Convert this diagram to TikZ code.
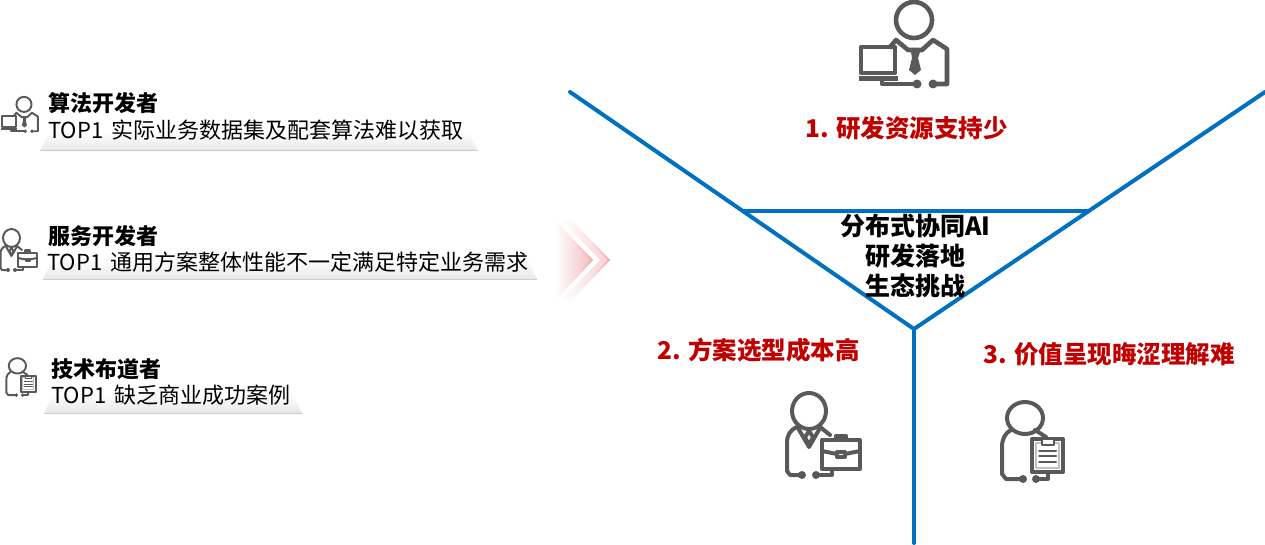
\documentclass[tikz,border=0pt]{standalone}
\usepackage{fontspec}
\setmainfont{Noto Sans CJK SC}
\usetikzlibrary{calc}
\definecolor{funnelblue}{HTML}{0070C0}
\definecolor{titlered}{HTML}{C00000}
\definecolor{icongray}{HTML}{595959}
\definecolor{arrowpink}{HTML}{F2BCC0}
\definecolor{arrowedge}{HTML}{F2ACB2}
\tikzset{
  funnel/.style={draw=funnelblue,line width=4pt,line cap=round},
  roletitle/.style={anchor=west,inner sep=0pt,font=\fontsize{22}{26}\selectfont\bfseries},
  roletext/.style={anchor=west,inner sep=0pt,font=\fontsize{22}{26}\selectfont},
  pain/.style={anchor=west,inner sep=0pt,text=titlered,font=\fontsize{24.5}{30}\selectfont\bfseries},
  core/.style={inner sep=0pt,font=\fontsize{25}{30}\selectfont\bfseries},
}
% shelf under a text line
\newcommand{\shelf}[3]{
  \shade[top color=white,bottom color=black!9] (#1+10,#3-20)--(#2-10,#3-20)--(#2,#3)--(#1,#3)--cycle;
  \draw[black!20,line width=1pt] (#1,#3)--(#2,#3);
}
% person with laptop
\newcommand{\icondev}[3]{
  \begin{scope}[shift={(#1,#2)},scale=#3,draw=icongray,line width=#3*4.6pt,line join=round,line cap=round]
    \draw (84,20) circle (18);
    \draw (60,47)--(66,40)--(78,50)--(92,50)--(103,40)--(117,49)--(117,84)--(103,84);
    \fill[icongray] (81,52)--(90,52)--(88,58)--(91,70)--(85,75)--(79,70)--(82,58)--cycle;
    \draw (31,47) rectangle (65,73);
    \fill[icongray] (29,76) rectangle (68,81);
    \draw (52,81)--(52,84)--(87,84);
    \fill[icongray] (87,84) circle (4.5) (103,84) circle (4.5);
  \end{scope}
}
% person with briefcase
\newcommand{\iconbiz}[3]{
  \begin{scope}[shift={(#1,#2)},scale=#3,draw=icongray,line width=#3*4pt,line join=round,line cap=round]
    \draw (39,26) ellipse (17 and 18);
    \draw (27,42) .. controls (20,45) and (17,50) .. (17,58)--(17,86)--(20,90)--(32,90);
    \draw (46,90)--(62,90)--(62,84);
    \draw (50,42)--(60,50);
    \draw (28,43)--(39,62)--(50,43);
    \draw (39,46)--(43,52)--(39,60)--(35,52)--cycle;
    \fill[icongray] (32,90) circle (4) (46,90) circle (4);
    \draw[fill=white] (52,55) rectangle (90,84);
    \draw (66,55)--(66,51)--(76,51)--(76,55);
    \draw (52,66)--(67,69) (75,69)--(90,66);
    \draw (67,67) rectangle (75,72);
  \end{scope}
}
% person with clipboard
\newcommand{\icondoc}[3]{
  \begin{scope}[shift={(#1,#2)},scale=#3,draw=icongray,line width=#3*4pt,line join=round,line cap=round]
    \draw (255,33) ellipse (18 and 16);
    \draw (241,45) .. controls (235,48) and (232,54) .. (232,62)--(232,89)--(236,94)--(253,94);
    \draw (266,94)--(278,94)--(278,88);
    \draw (265,45)--(276,52);
    \fill[icongray] (253,94) circle (4) (266,94) circle (4);
    \draw[fill=white] (262,54) rectangle (293,87);
    \draw[black!25,line width=#3*1.5pt] (266,58) rectangle (289,83);
    \draw[fill=white,line width=#3*2.5pt] (272,54) rectangle (284,60);
    \foreach \y in {66,71,77} \draw[line width=#3*2pt] (269,\y)--(286,\y);
  \end{scope}
}
\begin{document}
\begin{tikzpicture}[x=1pt,y=-1pt]
  \useasboundingbox (0,0) rectangle (1265,545);
  % funnel
  \coordinate (leftTop) at (570,92);
  \coordinate (rightTop) at (1265,92);
  \coordinate (apex) at (914,329);
  \coordinate (stem) at (914,543);
  \coordinate (barL) at (743,211);
  \coordinate (barR) at (1087,211);
  \draw[funnel] (leftTop)--(apex)--(rightTop);
  \draw[funnel] (apex)--(stem);
  \draw[funnel] (barL)--(barR);
  \node[core] (coreA) at (915.5,226) {分布式协同AI};
  \node[core] (coreB) at (915.5,256) {研发落地};
  \node[core] (coreC) at (915.5,286) {生态挑战};
  % red labels
  \node[pain] (painA) at (805,128) {1. 研发资源支持少};
  \node[pain] (painB) at (657,350) {2. 方案选型成本高};
  \node[pain] (painC) at (983,354) {3. 价值呈现晦涩理解难};
  % big icons
  \icondev{830}{0}{1}
  \iconbiz{770}{385}{1}
  \icondoc{770}{385}{1}
  % chevrons
  \shade[left color=white,right color=arrowpink!70] (571,220)--(610,260)--(571,300)--(561,300)--(600,260)--(561,220)--cycle;
  \shade[left color=white,right color=arrowedge] (571,220)--(610,260)--(571,300)--(572.5,300)--(607.5,260)--(572.5,220)--cycle;
  \shade[left color=white,right color=arrowpink] (555,221)--(593,260)--(555,300)--cycle;
  \shade[left color=white,right color=arrowedge] (555,221)--(593,260)--(555,300)--(556.5,300)--(590.5,260)--(556.5,221)--cycle;
  % left column
  \shelf{40}{478}{151}
  \shelf{43}{537}{279}
  \shelf{44}{302}{413}
  \icondev{-11.3}{96}{.42}
  \iconbiz{-8}{225}{.5}
  \icondoc{-105}{350}{.48}
  \node[roletitle] (algoName) at (48,103) {算法开发者};
  \node[roletext] (algoText) at (48,130) {TOP1\hspace{3pt} 实际业务数据集及配套算法难以获取};
  \node[roletitle] (svcName) at (48,236) {服务开发者};
  \node[roletext] (svcText) at (47,262) {TOP1\hspace{3pt} 通用方案整体性能不一定满足特定业务需求};
  \node[roletitle] (techName) at (51,369) {技术布道者};
  \node[roletext] (techText) at (51,395) {TOP1\hspace{3pt} 缺乏商业成功案例};
\end{tikzpicture}
\end{document}
